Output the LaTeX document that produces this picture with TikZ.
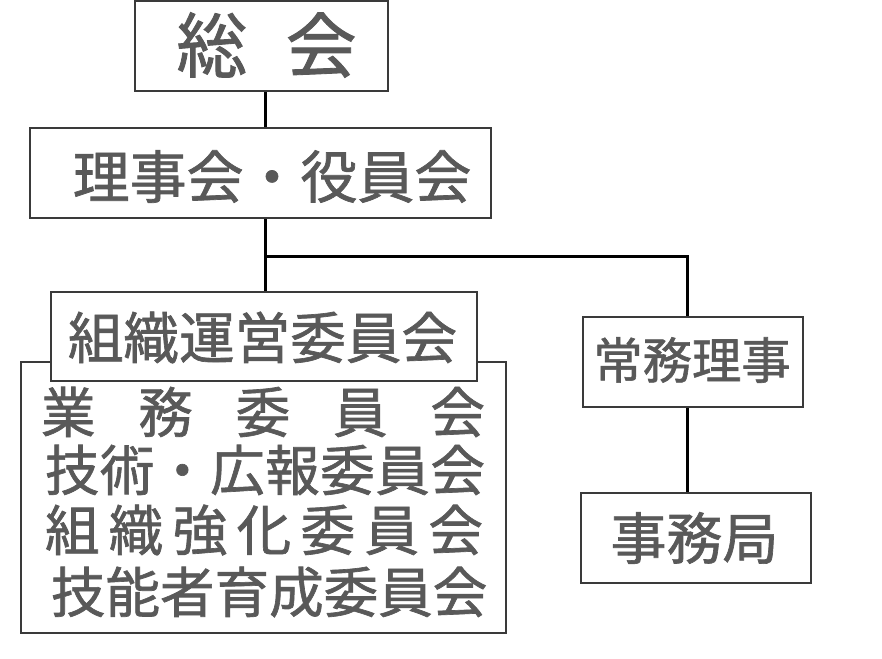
\documentclass[tikz,border=0pt]{standalone}
\usepackage{fontspec}
\usetikzlibrary{fit}
\newfontfamily\jp{Noto Sans CJK JP}[FakeBold=1.2]
\definecolor{txt}{HTML}{595959}
\definecolor{edge}{HTML}{3A3A3A}
\newcommand{\fs}[1]{\jp\fontsize{#1}{#1}\selectfont}
\newcommand{\spread}[2]{\makebox[#1][s]{#2}}
\begin{document}
\begin{tikzpicture}[x=0.75pt,y=-0.75pt,
  box/.style={draw=edge,line width=1.5pt,fill=white,inner sep=0pt},
  lbl/.style={text=txt,inner sep=0pt},
  link/.style={line width=2.25pt,black}]
\useasboundingbox (0,0) rectangle (882,658);
% boxes
\node[box,fit={(135,1)(388,91)}] (soukai) {};
\node[box,fit={(30,128)(491,218)}] (rijikai) {};
\node[box,fit={(21,362)(506,633)}] (iinkai) {};
\node[box,fit={(51,292)(477,381)}] (unei) {};
\node[box,fit={(583,317)(803,407)}] (joumu) {};
\node[box,fit={(581,493)(811,583)}] (jimu) {};
% connectors
\coordinate (j1) at (265,256);
\coordinate (j2) at (687,256);
\draw[link] (soukai.south -| j1) -- (rijikai.north -| j1);
\draw[link] (rijikai.south -| j1) -- (unei.north -| j1);
\draw[link] (j1) -- (j2) -- (j2 |- joumu.north);
\draw[link] (joumu.south -| j2) -- (jimu.north -| j2);
% labels
\node[lbl,font=\fs{53pt}] (t0) at (266.5,45) {総\hspace{29pt}会};
\node[lbl,font=\fs{42.7pt}] (t1) at (272,176.5) {理事会・役員会};
\node[lbl,font=\fs{41.7pt}] (t2) at (262.5,337.5) {組織運営委員会};
\node[lbl,font=\fs{40.9pt}] (l1) at (263,412) {\spread{333pt}{業\hfill 務\hfill 委\hfill 員\hfill 会}};
\node[lbl,font=\fs{40.9pt}] (l2) at (265,470) {\spread{330pt}{技\hfill 術\hfill ・\hfill 広\hfill 報\hfill 委\hfill 員\hfill 会}};
\node[lbl,font=\fs{40.9pt}] (l3) at (264,530) {\spread{328.5pt}{組\hfill 織\hfill 強\hfill 化\hfill 委\hfill 員\hfill 会}};
\node[lbl,font=\fs{40.9pt}] (l4) at (267,592) {\spread{324pt}{技\hfill 能\hfill 者\hfill 育\hfill 成\hfill 委\hfill 員\hfill 会}};
\node[lbl,font=\fs{37pt}] (t3) at (692,360) {常務理事};
\node[lbl,font=\fs{42pt}] (t4) at (694.5,538) {事務局};
\end{tikzpicture}
\end{document}
